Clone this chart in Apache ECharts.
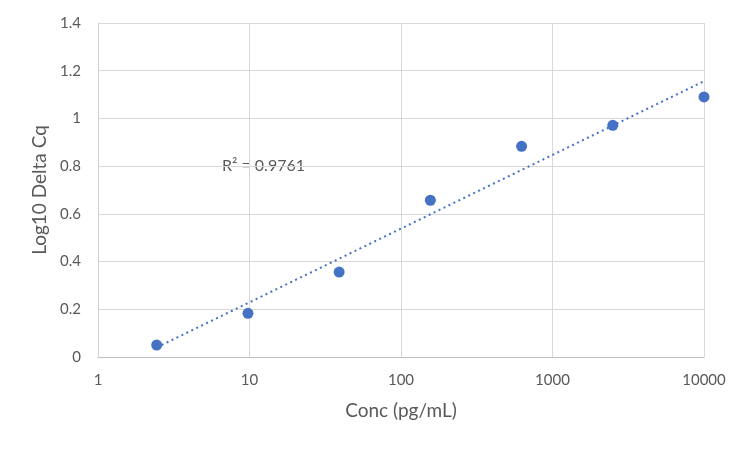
<!DOCTYPE html>
<html>
<head>
<meta charset="utf-8">
<script src="https://cdn.jsdelivr.net/npm/echarts@6/dist/echarts.min.js"></script>
<style>
html,body{margin:0;padding:0;background:#fff;}
#chart{width:750px;height:450px;}
</style>
</head>
<body>
<div id="chart"></div>
<script>
// Data
const concValues = [2.44, 9.77, 39.06, 156.25, 625, 2500, 10000];
const log10DeltaCq = [0.050, 0.183, 0.356, 0.657, 0.883, 0.971, 1.090];
// Trendline endpoints
const trendConc = [2.44, 10000];
const trendValues = [0.04, 1.156];
const r2Label = 'R² = 0.9761';
const xTicks = [1, 10, 100, 1000, 10000];

const labelColor = '#595959';
const font = 'Lato, "Liberation Sans", sans-serif';

const chart = echarts.init(document.getElementById('chart'), null, {renderer: 'canvas'});
chart.setOption({
  animation: false,
  backgroundColor: '#ffffff',
  grid: {left: 98, right: 46, top: 23, bottom: 93, containLabel: false},
  xAxis: {
    type: 'log',
    logBase: 10,
    min: xTicks[0],
    max: xTicks[xTicks.length - 1],
    name: 'Conc (pg/mL)',
    nameLocation: 'middle',
    nameGap: 44,
    nameTextStyle: {color: labelColor, fontSize: 19, fontFamily: font},
    axisLine: {show: true, lineStyle: {color: '#bfbfbf', width: 1}},
    axisTick: {show: false},
    minorTick: {show: false},
    axisLabel: {color: labelColor, fontSize: 15, fontFamily: font, margin: 16,
      formatter: v => String(Math.round(v))},
    splitLine: {show: true, lineStyle: {color: '#d9d9d9', width: 1}}
  },
  yAxis: {
    type: 'value',
    min: 0,
    max: 1.4,
    interval: 0.2,
    name: 'Log10 Delta Cq',
    nameLocation: 'middle',
    nameGap: 49,
    nameRotate: 90,
    nameTextStyle: {color: labelColor, fontSize: 19, fontFamily: font},
    axisLine: {show: true, lineStyle: {color: '#d0d0d0', width: 1}},
    axisTick: {show: false},
    axisLabel: {color: labelColor, fontSize: 15, fontFamily: font, margin: 17,
      formatter: v => String(Math.round(v * 10) / 10)},
    splitLine: {show: true, lineStyle: {color: '#d9d9d9', width: 1}}
  },
  graphic: [{
    type: 'text',
    left: 222,
    top: 158,
    style: {text: r2Label, fill: labelColor, font: '16px ' + font}
  }],
  series: [
    {
      type: 'line',
      data: trendConc.map((c, i) => [c, trendValues[i]]),
      showSymbol: false,
      symbol: 'none',
      lineStyle: {color: '#4472c4', width: 2, type: [2, 3.5]},
      z: 2
    },
    {
      type: 'scatter',
      data: concValues.map((c, i) => [c, log10DeltaCq[i]]),
      symbol: 'circle',
      symbolSize: 11,
      itemStyle: {color: '#4472c4', opacity: 1},
      z: 3
    }
  ]
});
</script>
</body>
</html>
